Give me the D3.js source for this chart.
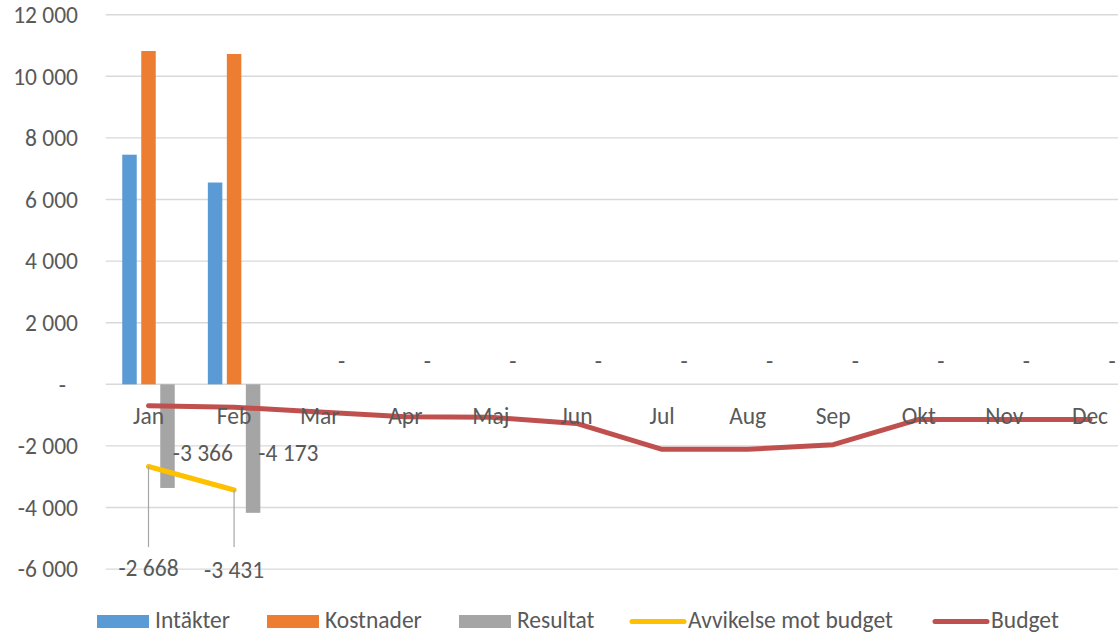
<!DOCTYPE html>
<html>
<head>
<meta charset="utf-8">
<script src="https://cdn.jsdelivr.net/npm/d3@7"></script>
<style>
  body { margin: 0; background: #fff; }
  text { font-family: Carlito, Calibri, Lato, sans-serif; fill: #595959; }
</style>
</head>
<body>
<div id="chart"></div>
<script>
// chart data
var months = ["Jan", "Feb", "Mar", "Apr", "Maj", "Jun", "Jul", "Aug", "Sep", "Okt", "Nov", "Dec"];
var intakter  = [7455, 6551, 0, 0, 0, 0, 0, 0, 0, 0, 0, 0];
var kostnader = [10821, 10724, 0, 0, 0, 0, 0, 0, 0, 0, 0, 0];
var resultat  = [-3366, -4173, 0, 0, 0, 0, 0, 0, 0, 0, 0, 0];
var avvikelse = [-2668, -3431];
var budget    = [-698, -742, -900, -1050, -1070, -1270, -2110, -2110, -1960, -1140, -1140, -1140];
var yTicks    = [-6000, -4000, -2000, 0, 2000, 4000, 6000, 8000, 10000, 12000];

var seriesNames = ["Intäkter", "Kostnader", "Resultat", "Avvikelse mot budget", "Budget"];
var colors = ["#5B9BD5", "#ED7D31", "#A5A5A5", "#FFC000", "#C0504D"];

var width = 1118, height = 634;
var fontSize = 23.5;

// swedish style numbers, zero shown as "-"
var sv = d3.formatLocale({ decimal: ",", thousands: " ", grouping: [3], currency: ["", ""], minus: "-" });
var fmt = function (v) { return v === 0 ? "-" : sv.format(",d")(v); };

var svg = d3.select("#chart").append("svg")
  .attr("width", width)
  .attr("height", height);

// scales
var x = d3.scaleBand().domain(months).range([105.7, 1132.8]).padding(0);
var xs = d3.scaleBand().domain([0, 1, 2]).range([-26.25, 26.25]).paddingInner(0.237);
var y = d3.scaleLinear().domain([-6000, 12000]).range([569.1, 14.7]);
var cx = function (i) { return x(months[i]) + x.bandwidth() / 2; };

// gridlines
svg.append("g")
  .selectAll("line")
  .data(yTicks)
  .enter().append("line")
  .attr("x1", x.range()[0])
  .attr("x2", width)
  .attr("y1", function (d) { return y(d); })
  .attr("y2", function (d) { return y(d); })
  .attr("stroke", "#D9D9D9")
  .attr("stroke-width", 1.4);

// y axis labels
svg.append("g")
  .selectAll("text")
  .data(yTicks)
  .enter().append("text")
  .attr("x", function (d) { return d === 0 ? 66 : 78; })
  .attr("y", function (d) { return y(d); })
  .attr("dy", "0.35em")
  .attr("text-anchor", "end")
  .style("font-size", fontSize + "px")
  .text(fmt);

// bars
var barSeries = [intakter, kostnader, resultat];
barSeries.forEach(function (vals, s) {
  svg.append("g")
    .selectAll("rect")
    .data(vals)
    .enter().append("rect")
    .attr("x", function (d, i) { return cx(i) + xs(s); })
    .attr("width", xs.bandwidth())
    .attr("y", function (d) { return y(Math.max(0, d)); })
    .attr("height", function (d) { return Math.abs(y(d) - y(0)); })
    .attr("fill", colors[s]);
});

// budget line
var line = d3.line()
  .x(function (d, i) { return cx(i); })
  .y(function (d) { return y(d); });

svg.append("path")
  .datum(budget)
  .attr("d", line)
  .attr("fill", "none")
  .attr("stroke", colors[4])
  .attr("stroke-width", 5)
  .attr("stroke-linecap", "round")
  .attr("stroke-linejoin", "round");

// avvikelse line
svg.append("path")
  .datum(avvikelse)
  .attr("d", line)
  .attr("fill", "none")
  .attr("stroke", colors[3])
  .attr("stroke-width", 5)
  .attr("stroke-linecap", "round")
  .attr("stroke-linejoin", "round");

// leader lines + labels for avvikelse
var avvLabelY = y(-6000) - 1;
svg.append("g")
  .selectAll("line")
  .data(avvikelse)
  .enter().append("line")
  .attr("x1", function (d, i) { return cx(i); })
  .attr("x2", function (d, i) { return cx(i); })
  .attr("y1", function (d) { return y(d); })
  .attr("y2", avvLabelY - 21)
  .attr("stroke", "#A6A6A6")
  .attr("stroke-width", 1.2);

svg.append("g")
  .selectAll("text")
  .data(avvikelse)
  .enter().append("text")
  .attr("x", function (d, i) { return cx(i); })
  .attr("y", function (d, i) { return avvLabelY + i * 2; })
  .attr("dy", "0.35em")
  .attr("text-anchor", "middle")
  .style("font-size", fontSize + "px")
  .text(fmt);

// category labels
svg.append("g")
  .selectAll("text")
  .data(months)
  .enter().append("text")
  .attr("x", function (d, i) { return cx(i); })
  .attr("y", y(0) + 31)
  .attr("dy", "0.35em")
  .attr("text-anchor", "middle")
  .style("font-size", fontSize + "px")
  .text(function (d) { return d; });

// resultat labels
svg.append("g")
  .selectAll("text")
  .data(resultat)
  .enter().append("text")
  .attr("x", function (d, i) {
    return d === 0 ? cx(i) + xs(2) + xs.bandwidth() / 2 + 3 : cx(i) + xs(2) + xs.bandwidth() - 2;
  })
  .attr("y", function (d) { return d === 0 ? y(0) - 24 : y(0) + 68; })
  .attr("dy", "0.35em")
  .attr("text-anchor", function (d) { return d === 0 ? "middle" : "start"; })
  .style("font-size", fontSize + "px")
  .text(fmt);

// legend
var legendX = [97, 267, 459, 630, 933];
var legendY = 621.5;
var legend = svg.append("g");
seriesNames.forEach(function (name, i) {
  if (i < 3) {
    legend.append("rect")
      .attr("x", legendX[i])
      .attr("y", legendY - 6.5)
      .attr("width", 52)
      .attr("height", 13)
      .attr("fill", colors[i]);
  } else {
    legend.append("line")
      .attr("x1", legendX[i] + 2)
      .attr("x2", legendX[i] + 54)
      .attr("y1", legendY)
      .attr("y2", legendY)
      .attr("stroke", colors[i])
      .attr("stroke-width", 5)
      .attr("stroke-linecap", "round");
  }
  legend.append("text")
    .attr("x", legendX[i] + 58)
    .attr("y", legendY - 1.5)
    .attr("dy", "0.35em")
    .style("font-size", fontSize + "px")
    .text(name);
});
</script>
</body>
</html>
